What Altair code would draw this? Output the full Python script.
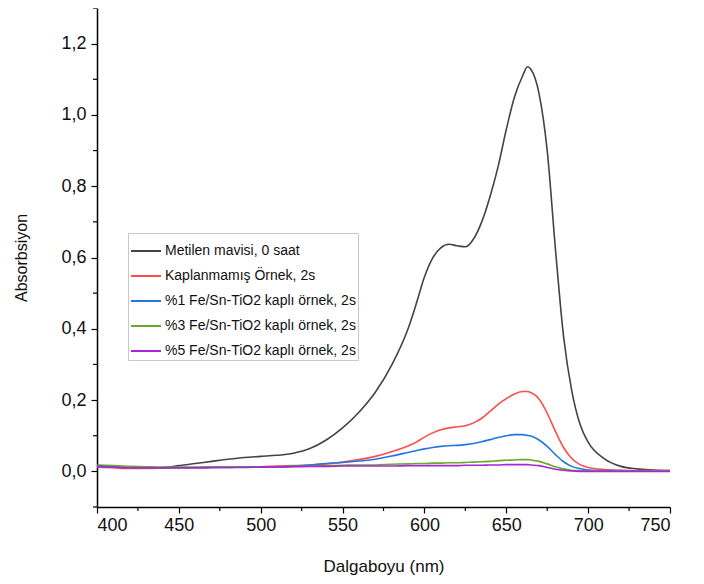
import altair as alt
import pandas as pd

wavelength = [400, 410, 420, 430, 440, 450, 460, 470, 480, 490, 500, 510, 520, 530, 540,
              550, 560, 570, 580, 590,
              595, 600, 605, 610, 615, 620, 625, 630, 635, 640, 645, 650, 655, 660,
              663,
              665, 670, 675, 680, 685, 690, 695, 700,
              710, 720, 730, 740, 750]

metilen = [0.015, 0.012, 0.010, 0.010, 0.011, 0.016, 0.022, 0.028, 0.034, 0.039, 0.042, 0.045, 0.051, 0.064, 0.088,
           0.122, 0.166, 0.222, 0.298, 0.400,
           0.470, 0.545, 0.598, 0.627, 0.637, 0.633, 0.630, 0.652, 0.700, 0.770, 0.855, 0.959, 1.050, 1.110,
           1.135,
           1.128, 1.060, 0.900, 0.625, 0.378, 0.226, 0.133, 0.082,
           0.035, 0.014, 0.007, 0.004, 0.002]

kaplanmamis = [0.012, 0.010, 0.008, 0.008, 0.009, 0.010, 0.010, 0.011, 0.012, 0.013, 0.013, 0.015, 0.016, 0.018, 0.021,
               0.026, 0.033, 0.042, 0.055, 0.071,
               0.082, 0.096, 0.108, 0.117, 0.122, 0.125, 0.128, 0.136, 0.149, 0.168, 0.188, 0.204, 0.217, 0.224,
               0.224,
               0.221, 0.203, 0.163, 0.112, 0.067, 0.036, 0.019, 0.011,
               0.005, 0.003, 0.002, 0.002, 0.002]

fe1 = [0.013, 0.012, 0.011, 0.010, 0.010, 0.010, 0.010, 0.011, 0.011, 0.012, 0.012, 0.013, 0.015, 0.018, 0.022,
       0.025, 0.029, 0.034, 0.043, 0.053,
       0.058, 0.063, 0.067, 0.070, 0.072, 0.073, 0.075, 0.078, 0.083, 0.089, 0.095, 0.100, 0.103, 0.103,
       0.101,
       0.099, 0.088, 0.070, 0.047, 0.027, 0.014, 0.008, 0.004,
       0.002, 0.002, 0.001, 0.001, 0.001]

fe3 = [0.018, 0.016, 0.014, 0.013, 0.012, 0.012, 0.012, 0.012, 0.012, 0.012, 0.012, 0.013, 0.014, 0.015, 0.016,
       0.017, 0.018, 0.018, 0.020, 0.021,
       0.022, 0.022, 0.023, 0.023, 0.024, 0.024, 0.025, 0.026, 0.027, 0.028, 0.030, 0.031, 0.032, 0.033,
       0.033,
       0.032, 0.028, 0.021, 0.013, 0.007, 0.003, 0.002, 0.001,
       0.001, 0.001, 0.001, 0.001, 0.001]

fe5 = [0.015, 0.012, 0.010, 0.010, 0.010, 0.010, 0.010, 0.011, 0.011, 0.011, 0.012, 0.012, 0.013, 0.014, 0.014,
       0.015, 0.015, 0.015, 0.015, 0.016,
       0.016, 0.016, 0.016, 0.016, 0.016, 0.016, 0.017, 0.017, 0.017, 0.018, 0.018, 0.019, 0.019, 0.019,
       0.019,
       0.018, 0.016, 0.011, 0.006, 0.003, 0.001, 0.000, 0.000,
       0.000, 0.000, 0.000, 0.000, 0.000]

series_names = ["Metilen mavisi, 0 saat",
                "Kaplanmamış Örnek, 2s",
                "%1 Fe/Sn-TiO2 kaplı örnek, 2s",
                "%3 Fe/Sn-TiO2 kaplı örnek, 2s",
                "%5 Fe/Sn-TiO2 kaplı örnek, 2s"]
series_colors = ["#444444", "#ff4d4d", "#2475e0", "#6aa829", "#a825d8"]
series_values = [metilen, kaplanmamis, fe1, fe3, fe5]

x_major = [400, 450, 500, 550, 600, 650, 700, 750]
x_minor = [425, 475, 525, 575, 625, 675, 725]
y_major = [0.0, 0.2, 0.4, 0.6, 0.8, 1.0, 1.2]
y_minor = [-0.1, 0.1, 0.3, 0.5, 0.7, 0.9, 1.1, 1.3]

rows = []
for order, (name, vals) in enumerate(zip(series_names, series_values)):
    for w, v in zip(wavelength, vals):
        rows.append({"wl": w, "abs": v, "series": name, "order": order})
df = pd.DataFrame(rows)

FONT = "Liberation Sans"

xscale = alt.Scale(domain=[400, 750], nice=False, zero=False)
yscale = alt.Scale(domain=[-0.1, 1.3], nice=False, zero=False)

lines = alt.Chart(df).mark_line(strokeWidth=1.6, interpolate="monotone").encode(
    x=alt.X("wl:Q", scale=xscale,
            axis=alt.Axis(title="Dalgaboyu (nm)", values=x_major, grid=False,
                          tickSize=6, tickWidth=1.2, tickColor="#000",
                          domainColor="#000", domainWidth=1.5,
                          labelFontSize=18, labelFont=FONT, labelColor="#111",
                          labelPadding=3, titleFont=FONT, titleFontSize=17,
                          titleFontWeight="normal", titleColor="#111", titlePadding=24)),
    y=alt.Y("abs:Q", scale=yscale,
            axis=alt.Axis(title="Absorbsiyon", values=y_major, grid=False,
                          labelExpr="replace(format(datum.value, '.1f'), '.', ',')",
                          tickSize=6, tickWidth=1.2, tickColor="#000",
                          domainColor="#000", domainWidth=1.5,
                          labelFontSize=18, labelFont=FONT, labelColor="#111",
                          labelPadding=5, titleFont=FONT, titleFontSize=16,
                          titleFontWeight="normal", titleColor="#111", titlePadding=31)),
    color=alt.Color("series:N",
                    scale=alt.Scale(domain=series_names, range=series_colors),
                    legend=alt.Legend(title=None, orient="none", legendX=31, legendY=225,
                                      symbolType="stroke", symbolSize=900, symbolStrokeWidth=2,
                                      labelFont=FONT, labelFontSize=14, labelColor="#111",
                                      labelOffset=3, rowPadding=2, padding=2,
                                      strokeColor="#c8c8c8", fillColor="white",
                                      labelLimit=300)),
    detail="series:N",
    order="order:Q",
)

xminor_df = pd.DataFrame({"v": x_minor})
yminor_df = pd.DataFrame({"v": y_minor})

xminor = alt.Chart(xminor_df).mark_rule(color="#000", strokeWidth=1.2).encode(
    x=alt.X("v:Q", scale=xscale), y=alt.value(499), y2=alt.value(503))
yminor = alt.Chart(yminor_df).mark_rule(color="#000", strokeWidth=1.2).encode(
    y=alt.Y("v:Q", scale=yscale), x=alt.value(0), x2=alt.value(-4))

chart = alt.layer(lines, xminor, yminor).properties(
    width=573, height=499,
    autosize=alt.AutoSizeParams(type="none"),
    padding={"left": 89, "top": 0, "right": 26, "bottom": 69},
).configure_view(stroke=None)

chart.save("out.html", embed_options={"renderer": "svg", "actions": False})
